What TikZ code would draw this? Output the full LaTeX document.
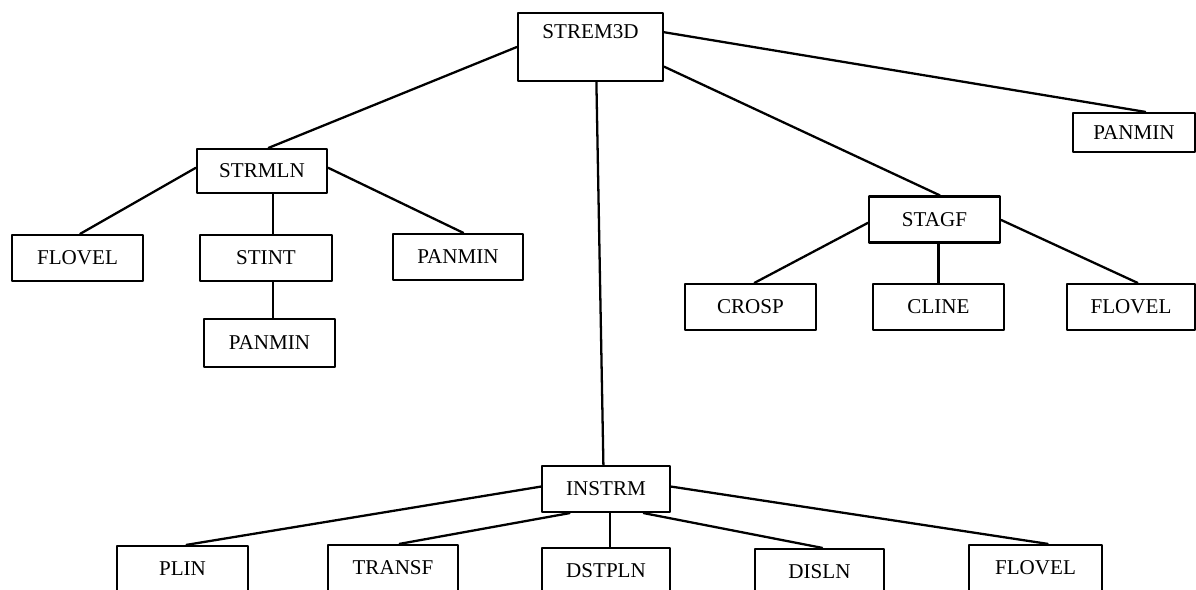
\documentclass[tikz,border=0pt]{standalone}
\usepackage{fontspec}
\setmainfont{Liberation Serif}
\usetikzlibrary{calc}

\begin{document}
\begin{tikzpicture}[x=0.02cm, y=-0.02cm, line cap=round, line join=round,
	box/.style={draw, line width=1.3pt, inner sep=0pt, minimum width=2.62cm,
		minimum height=0.92cm, font=\fontsize{12}{14}\selectfont},
	link/.style={line width=1.3pt}]
	\useasboundingbox (0,0) rectangle (1196,590);

	% --- 1. MAIN ROUTINE ---
	\node[box, minimum width=2.9cm, minimum height=1.36cm,
		text height=0.44cm, text depth=0.76cm] (strem) at (590.5,47) {STREM3D};

	% --- 2. STREAMLINE BRANCH ---
	\node[box, minimum width=2.6cm, minimum height=0.88cm] (strmln) at (262,171) {STRMLN};
	\node[box] (flovelA) at (77.5,258) {FLOVEL};
	\node[box, minimum width=2.64cm] (stint) at (266,258) {STINT};
	\node[box, minimum width=2.6cm] (panminA) at (458,257) {PANMIN};
	\node[box, minimum height=0.96cm] (panminB) at (269.5,343) {PANMIN};

	% --- 3. RIGHT BRANCHES ---
	\node[box, minimum width=2.44cm, minimum height=0.78cm] (panminC) at (1134,132.5) {PANMIN};
	\node[box] (stagf) at (934.5,219.5) {STAGF};
	\node[box] (crosp) at (750.5,307) {CROSP};
	\node[box] (cline) at (938.5,307) {CLINE};
	\node[box, minimum width=2.56cm] (flovelB) at (1131,307) {FLOVEL};

	% --- 4. INSTRM BRANCH ---
	\node[box, minimum width=2.56cm] (instrm) at (606,489) {INSTRM};
	\node[box] (plin) at (182.5,569) {PLIN};
	\node[box, minimum width=2.6cm] (transf) at (393,568) {TRANSF};
	\node[box, minimum width=2.56cm] (dstpln) at (606,571) {DSTPLN};
	\node[box, minimum width=2.58cm] (disln) at (819.5,572) {DISLN};
	\node[box, minimum width=2.66cm] (flovelC) at (1035.5,568) {FLOVEL};

	% connectors from STREM3D
	\draw[link] (strem.west) -- ($(strmln.north west)!0.55!(strmln.north east)$);
	\draw[link] ($(strem.south west)!0.54!(strem.south east)$) -- ($(instrm.north west)!0.48!(instrm.north east)$);
	\draw[link] ($(strem.north east)!0.29!(strem.south east)$) -- ($(panminC.north west)!0.59!(panminC.north east)$);
	\draw[link] ($(strem.north east)!0.78!(strem.south east)$) -- ($(stagf.north west)!0.54!(stagf.north east)$);

	% connectors from STRMLN
	\draw[link] ($(strmln.north west)!0.43!(strmln.south west)$) -- ($(flovelA.north west)!0.52!(flovelA.north east)$);
	\draw[link] ($(stint.north west)!0.55!(stint.north east)$) coordinate (a) -- (a |- strmln.south);
	\draw[link] ($(strmln.north east)!0.43!(strmln.south east)$) -- ($(panminA.north west)!0.54!(panminA.north east)$);
	\draw[link] ($(stint.south west)!0.55!(stint.south east)$) coordinate (b) -- (b |- panminB.north);

	% connectors from STAGF
	\draw[link] ($(stagf.north west)!0.57!(stagf.south west)$) -- ($(crosp.north west)!0.53!(crosp.north east)$);
	\draw[link] ($(cline.north west)!0.5!(cline.north east)$) coordinate (c) -- (c |- stagf.south);
	\draw[link] ($(stagf.north east)!0.51!(stagf.south east)$) -- ($(flovelB.north west)!0.55!(flovelB.north east)$);

	% connectors from INSTRM
	\draw[link] ($(instrm.north west)!0.45!(instrm.south west)$) -- ($(plin.north west)!0.53!(plin.north east)$);
	\draw[link] ($(instrm.south west)!0.22!(instrm.south east)$) -- ($(transf.north west)!0.55!(transf.north east)$);
	\draw[link] ($(dstpln.north west)!0.53!(dstpln.north east)$) coordinate (d) -- (d |- instrm.south);
	\draw[link] ($(instrm.south west)!0.79!(instrm.south east)$) -- ($(disln.north west)!0.52!(disln.north east)$);
	\draw[link] ($(instrm.north east)!0.45!(instrm.south east)$) -- ($(flovelC.north west)!0.59!(flovelC.north east)$);
\end{tikzpicture}
\end{document}
